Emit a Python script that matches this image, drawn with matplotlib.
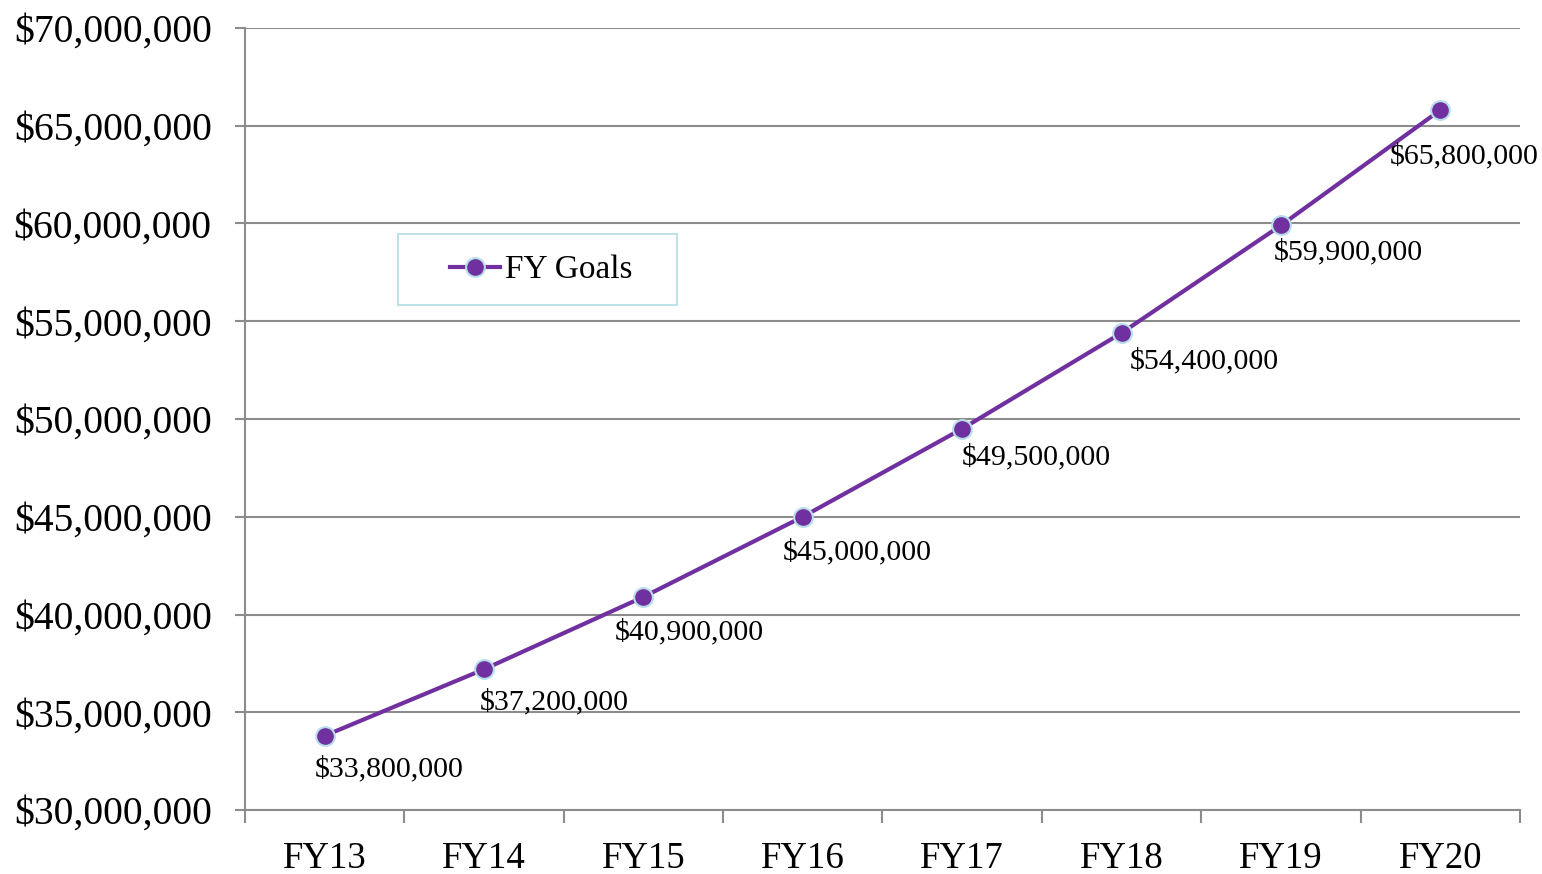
import numpy as np
import matplotlib
matplotlib.use("Agg")
import matplotlib.pyplot as plt
from matplotlib.patches import Rectangle
from matplotlib.ticker import FuncFormatter, FixedLocator

# Veriler
years = ["FY13", "FY14", "FY15", "FY16", "FY17", "FY18", "FY19", "FY20"]
goals = [33800000, 37200000, 40900000, 45000000, 49500000, 54400000, 59900000, 65800000]

# etiket kaydırmaları (piksel): sol kenar ve dikey merkez
label_dx = [-10, -4, -29, -20, 0, 8, -7, -51]
label_dy = [-33, -33, -35, -35, -28, -28, -27, -46]

LINE_COLOR = "#7030A0"
EDGE_COLOR = "#B7DEE8"
GRID_COLOR = "#8C8C8C"

plt.rcParams["font.family"] = ["Liberation Serif", "DejaVu Serif"]

fig = plt.figure(figsize=(15.42, 8.74), dpi=100)
ax = fig.add_axes([0.1589, 0.0732, 0.8268, 0.8948])

x = np.arange(len(years))
ax.plot(x, goals, color=LINE_COLOR, linewidth=3.0, marker="o", markersize=13.5,
        markerfacecolor=LINE_COLOR, markeredgecolor=EDGE_COLOR, markeredgewidth=1.5,
        label="FY Goals", zorder=3)

for i, v in enumerate(goals):
    ax.annotate(f"${v:,.0f}", (x[i], v), xytext=(label_dx[i], label_dy[i]),
                textcoords="offset pixels", ha="left", va="center",
                fontsize=21.5, color="black")

ax.set_xlim(-0.5, len(years) - 0.5)
ax.set_ylim(30000000, 70000000)
ax.set_yticks(np.arange(30000000, 70000001, 5000000))
ax.yaxis.set_major_formatter(FuncFormatter(lambda v, p: f"${v:,.0f}"))
ax.yaxis.grid(True, color=GRID_COLOR, linewidth=1.5)
ax.set_axisbelow(True)

# x: kategori sınırlarında tik, ortada etiket
ax.xaxis.set_major_locator(FixedLocator(np.arange(-0.5, len(years), 1.0)))
ax.xaxis.set_minor_locator(FixedLocator(x))
ax.set_xticklabels([])
ax.set_xticklabels(years, minor=True)
ax.tick_params(axis="x", which="major", length=9, width=1.5, color=GRID_COLOR, direction="out")
ax.tick_params(axis="x", which="minor", length=0, pad=23, labelsize=26.5)
ax.tick_params(axis="y", length=7, width=1.5, color=GRID_COLOR, direction="out",
               labelsize=28.5, pad=17)

for s in ["top", "right"]:
    ax.spines[s].set_visible(False)
for s in ["left", "bottom"]:
    ax.spines[s].set_color(GRID_COLOR)
    ax.spines[s].set_linewidth(1.5)

# lejant: çerçeve ayrı çiziliyor
ax.add_patch(Rectangle((398 / 1542, 1 - 305 / 874), 279 / 1542, 71 / 874,
                       transform=fig.transFigure, fill=True, facecolor="white",
                       edgecolor=EDGE_COLOR, linewidth=1.3, zorder=5, clip_on=False))
leg = ax.legend(loc="center left", bbox_to_anchor=(450 / 1542, 1 - 270 / 874),
                bbox_transform=fig.transFigure, fontsize=24, frameon=False,
                borderpad=0, borderaxespad=0, handlelength=1.5, handletextpad=0.15)
leg.set_zorder(6)

plt.savefig("out.png", dpi=100)
